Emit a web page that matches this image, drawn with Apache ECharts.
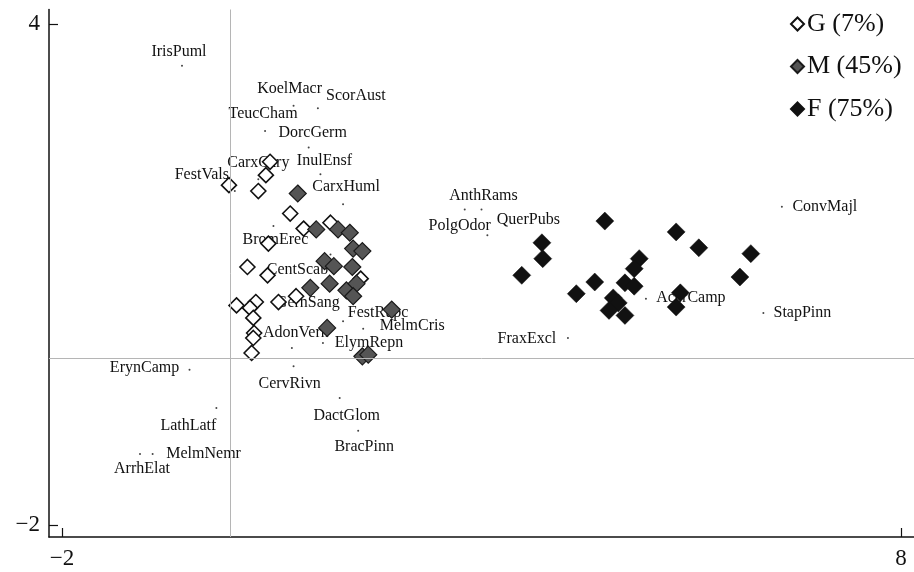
<!DOCTYPE html>
<html>
<head>
<meta charset="utf-8">
<script src="https://cdn.jsdelivr.net/npm/echarts@6/dist/echarts.min.js"></script>
<style>
  html, body { margin: 0; padding: 0; background: #fff; }
  #chart { width: 914px; height: 572px; }
</style>
</head>
<body>
<div id="chart"></div>
<script>
// Ordination scores: sample groups (site scores) and species scores
const groupNames = ['G (7%)', 'M (45%)', 'F (75%)'];

const gScores = [
  [0.48, 2.35], [0.43, 2.19], [-0.01, 2.07], [0.34, 2.00], [0.72, 1.73],
  [0.88, 1.55], [1.20, 1.62], [0.46, 1.37], [0.21, 1.09], [0.45, 0.99],
  [1.56, 0.95], [0.79, 0.74], [0.58, 0.67], [0.31, 0.67], [0.08, 0.63],
  [0.24, 0.60], [0.28, 0.48], [0.29, 0.30], [0.28, 0.24], [0.26, 0.06]
];

const mScores = [
  [0.81, 1.97], [1.03, 1.54], [1.29, 1.54], [1.43, 1.50], [1.47, 1.31],
  [1.58, 1.28], [1.13, 1.16], [1.24, 1.10], [1.46, 1.09], [1.19, 0.89],
  [0.96, 0.84], [1.39, 0.81], [1.51, 0.89], [1.47, 0.74], [1.93, 0.58],
  [1.16, 0.36], [1.58, 0.02], [1.65, 0.04]
];

const fScores = [
  [4.47, 1.64], [3.72, 1.38], [3.73, 1.19], [3.48, 0.99], [5.32, 1.51],
  [5.59, 1.32], [6.21, 1.25], [6.08, 0.97], [4.88, 1.19], [4.82, 1.07],
  [4.71, 0.90], [4.82, 0.86], [4.35, 0.91], [4.13, 0.77], [4.57, 0.72],
  [4.63, 0.66], [4.52, 0.57], [4.71, 0.51], [5.37, 0.78], [5.32, 0.61]
];

const speciesNames = [
  'IrisPuml', 'KoelMacr', 'ScorAust', 'TeucCham', 'DorcGerm', 'InulEnsf',
  'CarxCary', 'CarxHuml', 'FestVals', 'BromErec', 'CentScab', 'GernSang',
  'FestRupc', 'MelmCris', 'AdonVern', 'ElymRepn', 'CervRivn', 'ErynCamp',
  'LathLatf', 'MelmNemr', 'ArrhElat', 'DactGlom', 'BracPinn', 'AnthRams',
  'PolgOdor', 'QuerPubs', 'FraxExcl', 'AcerCamp', 'StapPinn', 'ConvMajl'
];

const speciesScores = [
  [-0.57, 3.50], [0.76, 3.02], [1.05, 2.99], [0.42, 2.72], [0.94, 2.52], [1.08, 2.20],
  [0.34, 2.14], [1.35, 1.84], [0.06, 2.00], [0.52, 1.58], [1.20, 1.24], [0.93, 0.83],
  [1.35, 0.44], [1.59, 0.35], [0.74, 0.12], [1.11, 0.18], [0.76, -0.10], [-0.48, -0.14],
  [-0.16, -0.60], [-0.92, -1.15], [-1.07, -1.15], [1.31, -0.48], [1.53, -0.87], [3.00, 1.78],
  [2.80, 1.78], [3.07, 1.47], [4.03, 0.24], [4.96, 0.71], [6.36, 0.54], [6.58, 1.81]
];

const xTicks = [-2, 8];
const yTicks = [-2, 4];

// Label placement around each species point (pixel offsets of the label centre)
const labelOffsets = {
  IrisPuml: [-3, -14], KoelMacr: [-4, -17], ScorAust: [38, -13], TeucCham: [-2, -17],
  DorcGerm: [4, -15], InulEnsf: [4, -14], CarxCary: [0, -17], CarxHuml: [3, -18],
  FestVals: [-33, -16], BromErec: [2, 14], CentScab: [-33, 15], GernSang: [0, 14],
  FestRupc: [35, -8], MelmCris: [49, -3], AdonVern: [4, -15], ElymRepn: [46, 0],
  CervRivn: [-4, 17], ErynCamp: [-45, -2], LathLatf: [-28, 18], MelmNemr: [51, 0],
  ArrhElat: [2, 15], DactGlom: [7, 18], BracPinn: [6, 16], AnthRams: [2, -14],
  PolgOdor: [-5, 16], QuerPubs: [41, -15], FraxExcl: [-41, 1], AcerCamp: [45, -1],
  StapPinn: [39, 0], ConvMajl: [43, 0]
};

const SERIF = '"Liberation Serif", "DejaVu Serif", serif';
const minus = v => String(v).replace('-', '\u2212');

const speciesData = speciesNames.map((name, i) => ({
  name: name,
  value: speciesScores[i],
  label: { offset: labelOffsets[name] }
}));

const chart = echarts.init(document.getElementById('chart'), null, { renderer: 'canvas' });

chart.setOption({
  animation: false,
  backgroundColor: '#fff',
  grid: { left: 49, right: 0, top: 9.5, bottom: 35, containLabel: false },
  legend: {
    orient: 'vertical',
    left: 785,
    top: 6,
    itemWidth: 13,
    itemHeight: 13,
    itemGap: 16.5,
    data: groupNames,
    textStyle: { fontFamily: SERIF, fontSize: 26, color: '#111', lineHeight: 26, padding: [0, 0, 0, -2] }
  },
  xAxis: {
    type: 'value',
    min: -2.155,
    max: 8.155,
    splitLine: { show: false },
    axisLine: { onZero: false, lineStyle: { color: '#111', width: 1.5 } },
    axisTick: { show: true, inside: true, length: 9, customValues: xTicks, lineStyle: { color: '#111', width: 1.2 } },
    axisLabel: { customValues: xTicks, formatter: minus, fontFamily: SERIF, fontSize: 23, color: '#111', margin: 10 }
  },
  yAxis: {
    type: 'value',
    min: -2.144,
    max: 4.174,
    splitLine: { show: false },
    axisLine: { onZero: false, lineStyle: { color: '#111', width: 1.5 } },
    axisTick: { show: true, inside: true, length: 9, customValues: yTicks, lineStyle: { color: '#111', width: 1.2 } },
    axisLabel: { customValues: yTicks, formatter: minus, fontFamily: SERIF, fontSize: 23, color: '#111', margin: 9 }
  },
  series: [
    {
      name: 'species',
      type: 'scatter',
      z: 1,
      symbol: 'circle',
      symbolSize: 2,
      itemStyle: { color: '#444', opacity: 1 },
      data: speciesData,
      label: {
        show: true,
        position: 'inside',
        formatter: '{b}',
        fontFamily: SERIF,
        fontSize: 16,
        color: '#111'
      },
      markLine: {
        silent: true,
        symbol: 'none',
        label: { show: false },
        lineStyle: { color: '#b5b5b5', width: 1, type: 'solid' },
        data: [{ xAxis: 0 }, { yAxis: 0 }]
      }
    },
    {
      name: groupNames[0],
      type: 'scatter',
      z: 3,
      symbol: 'diamond',
      symbolSize: 15,
      itemStyle: { color: '#fff', borderColor: '#111', borderWidth: 1.6, opacity: 1 },
      data: gScores
    },
    {
      name: groupNames[1],
      type: 'scatter',
      z: 3,
      symbol: 'diamond',
      symbolSize: 17,
      itemStyle: { color: '#555', borderColor: '#1a1a1a', borderWidth: 1.2, opacity: 1 },
      data: mScores
    },
    {
      name: groupNames[2],
      type: 'scatter',
      z: 3,
      symbol: 'diamond',
      symbolSize: 18,
      itemStyle: { color: '#111', borderColor: '#111', borderWidth: 0.5, opacity: 1 },
      data: fScores
    }
  ]
});
</script>
</body>
</html>
